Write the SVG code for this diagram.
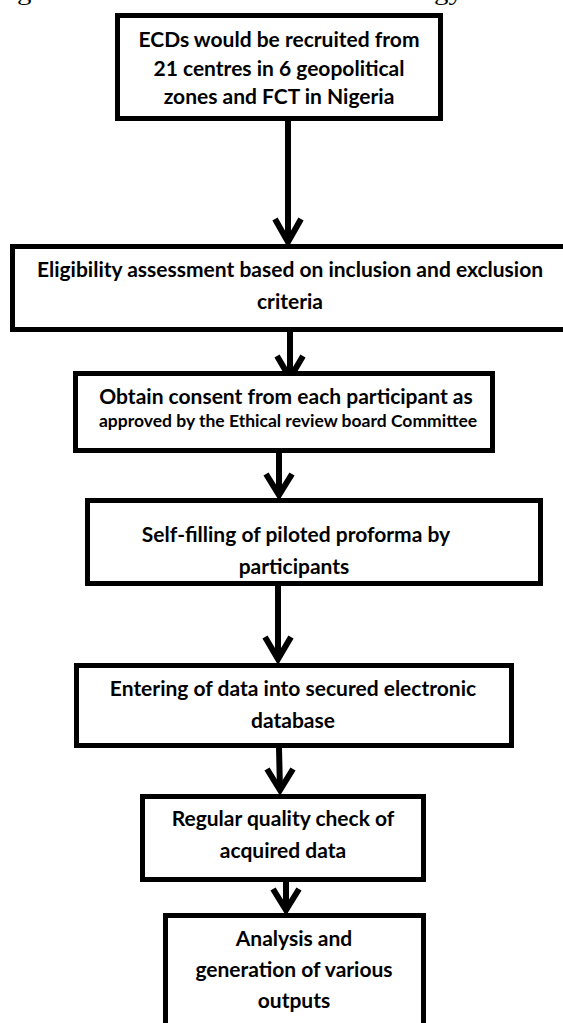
<svg xmlns="http://www.w3.org/2000/svg" width="563" height="1023" viewBox="0 0 563 1023">
<style>
.box{fill:#fff;stroke:#000;stroke-width:5}
.t{font-family:Lato,"Liberation Sans",sans-serif;font-weight:700;font-size:21px;fill:#000;text-anchor:middle}
.s{font-size:17.5px}
.cap{font-family:"Liberation Serif",serif;font-size:24px;fill:#000}
.ln{stroke:#000;stroke-width:6;fill:none}
.hd{stroke:#000;stroke-width:6;fill:none;stroke-linejoin:miter;stroke-linecap:butt}
</style>
<rect width="563" height="1023" fill="#fff"/>
<text class="cap" x="-7" y="0" textLength="470" lengthAdjust="spacingAndGlyphs">Figure 1: Flow chart of the methodology</text>
<g id="connectors">
<line class="ln" x1="288" y1="121" x2="288" y2="242"/>
<path class="hd" d="M275,219 L288,242 L301,219"/>
<line class="ln" x1="290" y1="332" x2="290" y2="378"/>
<path class="hd" d="M277,356 L290,378 L303,356"/>
<line class="ln" x1="279" y1="453" x2="279" y2="495"/>
<path class="hd" d="M266,474 L279,495 L292,474"/>
<line class="ln" x1="278" y1="586" x2="278" y2="659"/>
<path class="hd" d="M265,637 L278,659 L291,637"/>
<line class="ln" x1="279" y1="748" x2="280" y2="790"/>
<path class="hd" d="M267,769 L280,790 L293,769"/>
<line class="ln" x1="286" y1="882" x2="286" y2="910"/>
<path class="hd" d="M273,889 L286,910 L299,889"/>
</g>
<g id="n1">
<rect class="box" x="117.5" y="15.5" width="323" height="103"/>
<text class="t" x="279" y="47">ECDs would be recruited from</text>
<text class="t" x="279" y="76">21 centres in 6 geopolitical</text>
<text class="t" x="279" y="104">zones and FCT in Nigeria</text>
</g>
<g id="n2">
<rect class="box" x="12.5" y="246.5" width="560" height="83"/>
<text class="t" x="290" y="277">Eligibility assessment based on inclusion and exclusion</text>
<text class="t" x="290" y="309">criteria</text>
</g>
<g id="n3">
<rect class="box" x="75.5" y="373.5" width="417" height="77"/>
<text class="t" x="286" y="404">Obtain consent from each participant as</text>
<text class="t s" x="288" y="427">approved by the Ethical review board Committee</text>
</g>
<g id="n4">
<rect class="box" x="87.5" y="500.5" width="453" height="83"/>
<text class="t" x="296" y="542">Self-filling of piloted proforma by</text>
<text class="t" x="294" y="574">participants</text>
</g>
<g id="n5">
<rect class="box" x="76.5" y="665.5" width="435" height="80"/>
<text class="t" x="293" y="696">Entering of data into secured electronic</text>
<text class="t" x="293" y="728">database</text>
</g>
<g id="n6">
<rect class="box" x="142.5" y="796.5" width="281" height="83"/>
<text class="t" x="283" y="826">Regular quality check of</text>
<text class="t" x="283" y="858">acquired data</text>
</g>
<g id="n7">
<rect class="box" x="165.5" y="915.5" width="258" height="120"/>
<text class="t" x="294" y="946">Analysis and</text>
<text class="t" x="294" y="977">generation of various</text>
<text class="t" x="294" y="1008">outputs</text>
</g>
</svg>
